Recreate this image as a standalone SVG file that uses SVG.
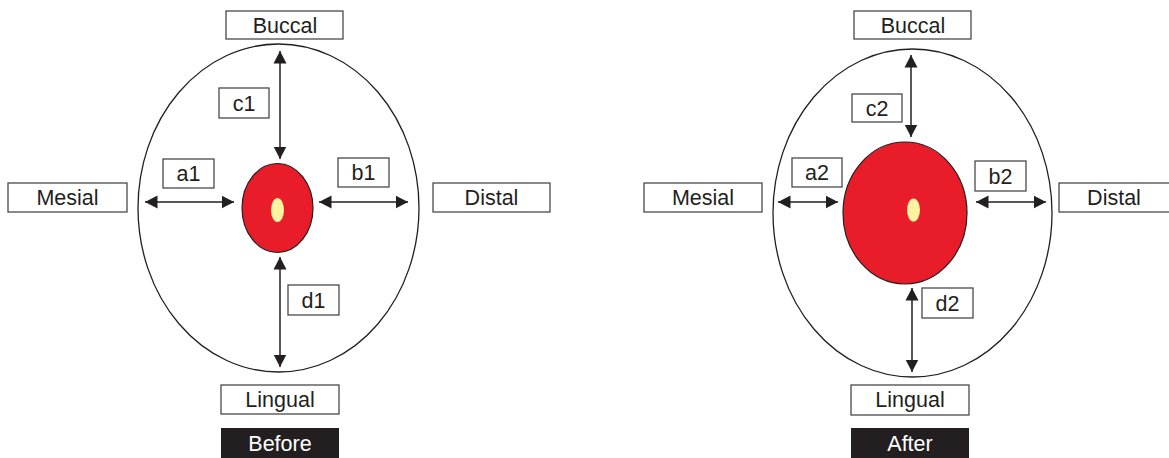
<svg xmlns="http://www.w3.org/2000/svg" width="1169" height="458" viewBox="0 0 1169 458">
  <style>
    .box { fill: #ffffff; stroke: #4a4a4a; stroke-width: 1.3; }
    .tag { fill: #231f20; stroke: none; }
    .lbl { font-family: "Liberation Sans", Arial, sans-serif; font-size: 21.5px; fill: #231f20; text-anchor: middle; dominant-baseline: central; }
    .lbl-inv { font-family: "Liberation Sans", Arial, sans-serif; font-size: 21.5px; fill: #ffffff; text-anchor: middle; dominant-baseline: central; }
    .outline { fill: #ffffff; stroke: #231f20; stroke-width: 1.3; }
    .pulp { fill: #e91c2a; stroke: #231f20; stroke-width: 1.2; }
    .canal { fill: #fff2a0; stroke: none; }
    .dim { stroke: #231f20; stroke-width: 1.5; fill: none; marker-start: url(#head); marker-end: url(#head); }
  </style>
  <defs>
    <marker id="head" markerUnits="userSpaceOnUse" markerWidth="14" markerHeight="14" refX="12.5" refY="7" orient="auto-start-reverse">
      <path d="M0,0.5 L12.5,7 L0,13.5 Z" fill="#231f20"/>
    </marker>
  </defs>

  <!-- Before: tooth cross-section -->
  <g id="before-tooth">
    <ellipse class="outline" cx="278.5" cy="208" rx="140.5" ry="164"/>
    <ellipse class="pulp" cx="277.5" cy="208" rx="35.5" ry="44.5"/>
    <ellipse class="canal" cx="277.5" cy="210" rx="6.5" ry="12"/>
  </g>

  <!-- After: tooth cross-section -->
  <g id="after-tooth">
    <ellipse class="outline" cx="912.5" cy="213" rx="139.5" ry="164"/>
    <ellipse class="pulp" cx="905" cy="213" rx="62" ry="71"/>
    <ellipse class="canal" cx="913.5" cy="210" rx="6.5" ry="11.5"/>
  </g>

  <!-- Distance arrows -->
  <g id="connectors">
    <line class="dim" x1="280" y1="51" x2="280" y2="159"/>
    <line class="dim" x1="145" y1="202" x2="234" y2="202"/>
    <line class="dim" x1="319" y1="202" x2="408" y2="202"/>
    <line class="dim" x1="280" y1="257" x2="280" y2="367"/>

    <line class="dim" x1="911" y1="55" x2="911" y2="137"/>
    <line class="dim" x1="778" y1="202" x2="838" y2="202"/>
    <line class="dim" x1="976" y1="202" x2="1046" y2="202"/>
    <line class="dim" x1="912" y1="288" x2="912" y2="372"/>
  </g>

  <!-- Before labels -->
  <g id="before-buccal"><rect class="box" x="226" y="11" width="117" height="28"/><text class="lbl" x="285" y="25.5">Buccal</text></g>
  <g id="before-mesial"><rect class="box" x="8" y="183" width="119" height="29"/><text class="lbl" x="67.5" y="198">Mesial</text></g>
  <g id="before-distal"><rect class="box" x="433" y="183" width="117" height="29"/><text class="lbl" x="491.5" y="198">Distal</text></g>
  <g id="before-lingual"><rect class="box" x="221" y="385" width="118" height="29"/><text class="lbl" x="280" y="400">Lingual</text></g>
  <g id="before-c1"><rect class="box" x="219" y="88" width="50" height="30"/><text class="lbl" x="244" y="103.5">c1</text></g>
  <g id="before-a1"><rect class="box" x="163" y="159" width="51" height="29"/><text class="lbl" x="188.5" y="174">a1</text></g>
  <g id="before-b1"><rect class="box" x="338" y="158" width="51" height="29"/><text class="lbl" x="363.5" y="173">b1</text></g>
  <g id="before-d1"><rect class="box" x="288" y="285" width="51" height="30"/><text class="lbl" x="313.5" y="300.5">d1</text></g>
  <g id="before-caption"><rect class="tag" x="221" y="428" width="118" height="30"/><text class="lbl-inv" x="280" y="444">Before</text></g>

  <!-- After labels -->
  <g id="after-buccal"><rect class="box" x="854" y="11" width="117" height="28"/><text class="lbl" x="913" y="25.5">Buccal</text></g>
  <g id="after-mesial"><rect class="box" x="644" y="183" width="118" height="29"/><text class="lbl" x="703" y="198">Mesial</text></g>
  <g id="after-distal"><rect class="box" x="1059" y="183" width="118" height="29"/><text class="lbl" x="1114" y="198">Distal</text></g>
  <g id="after-lingual"><rect class="box" x="851" y="385" width="118" height="30"/><text class="lbl" x="910" y="400">Lingual</text></g>
  <g id="after-c2"><rect class="box" x="852" y="94" width="50" height="28"/><text class="lbl" x="877" y="108.5">c2</text></g>
  <g id="after-a2"><rect class="box" x="792" y="158" width="50" height="29"/><text class="lbl" x="817" y="173">a2</text></g>
  <g id="after-b2"><rect class="box" x="975" y="161" width="51" height="30"/><text class="lbl" x="1000.5" y="176.5">b2</text></g>
  <g id="after-d2"><rect class="box" x="922" y="288" width="51" height="30"/><text class="lbl" x="947.5" y="303.5">d2</text></g>
  <g id="after-caption"><rect class="tag" x="851" y="428" width="118" height="30"/><text class="lbl-inv" x="910" y="444">After</text></g>
</svg>
